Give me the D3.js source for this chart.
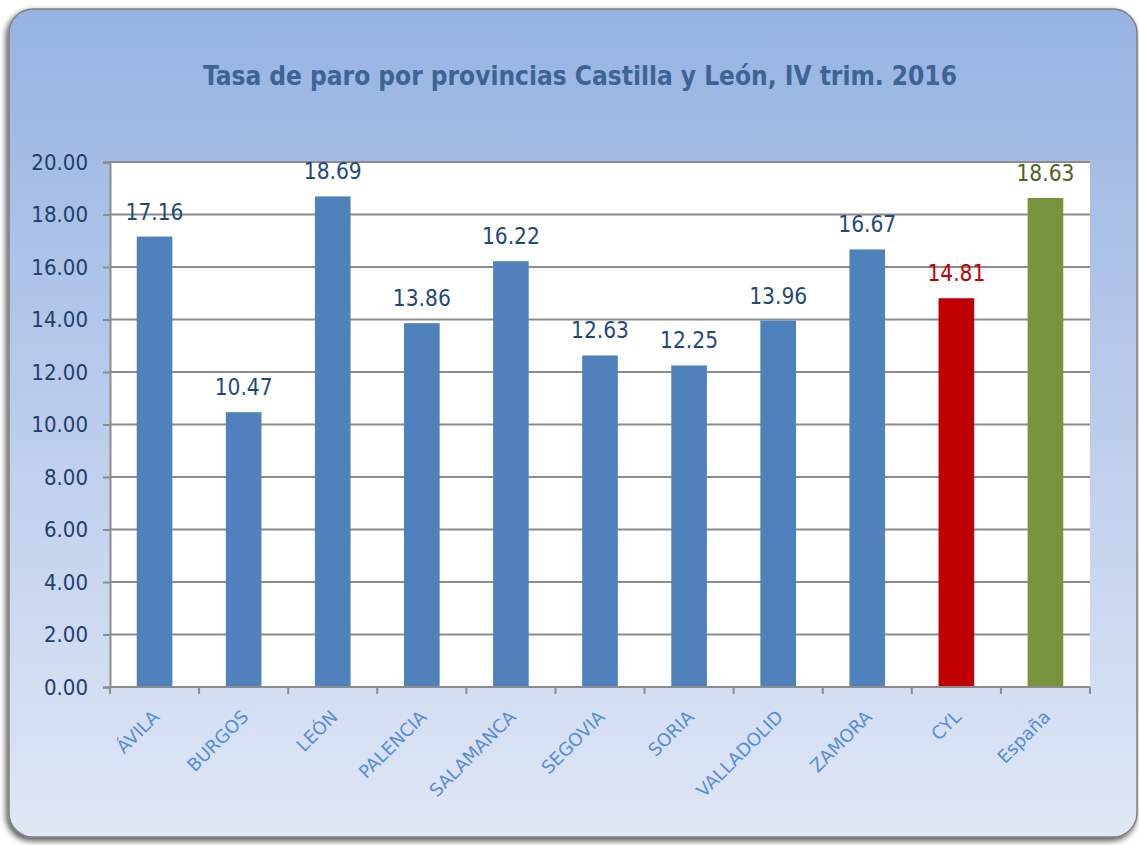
<!DOCTYPE html>
<html>
<head>
<meta charset="utf-8">
<script src="https://cdn.jsdelivr.net/npm/d3@7"></script>
<style>
  body { margin: 0; background: #ffffff; }
  svg { display: block; }
</style>
</head>
<body>
<div id="container"></div>
<script>
'use strict'
// data
const categories = ['ÁVILA', 'BURGOS', 'LEÓN', 'PALENCIA', 'SALAMANCA', 'SEGOVIA', 'SORIA', 'VALLADOLID', 'ZAMORA', 'CYL', 'España'];
const values = [17.16, 10.47, 18.69, 13.86, 16.22, 12.63, 12.25, 13.96, 16.67, 14.81, 18.63];
const yTicks = [0, 2, 4, 6, 8, 10, 12, 14, 16, 18, 20];
const title = 'Tasa de paro por provincias Castilla y León, IV trim. 2016';

const width = 1139, height = 845;
const margin = {left: 110, right: 49, top: 162, bottom: 158};
const font = "'DejaVu Sans Condensed', 'DejaVu Sans', sans-serif";
const fontX = "'DejaVu Sans', sans-serif";

const barColor = i => categories[i] === 'CYL' ? '#c00000' : categories[i] === 'España' ? '#77933c' : '#4f81bd';
const labelColor = i => categories[i] === 'CYL' ? '#c00000' : categories[i] === 'España' ? '#4f6228' : '#1f497d';

const svg = d3.select('#container').append('svg')
    .attr('width', width)
    .attr('height', height);

const defs = svg.append('defs');
const grad = defs.append('linearGradient').attr('id', 'bg').attr('x1', 0).attr('y1', 0).attr('x2', 0).attr('y2', 1);
grad.append('stop').attr('offset', '0%').attr('stop-color', '#97b3e2');
grad.append('stop').attr('offset', '45%').attr('stop-color', '#b8caeb');
grad.append('stop').attr('offset', '100%').attr('stop-color', '#e0e7f5');

const shadow = defs.append('filter').attr('id', 'shadow').attr('x', '-5%').attr('y', '-5%').attr('width', '110%').attr('height', '110%');
shadow.append('feGaussianBlur').attr('in', 'SourceAlpha').attr('stdDeviation', 3);
shadow.append('feOffset').attr('dx', -2).attr('dy', 3).attr('result', 'b');
shadow.append('feComponentTransfer').append('feFuncA').attr('type', 'linear').attr('slope', 0.7);
const mrg = shadow.append('feMerge');
mrg.append('feMergeNode');
mrg.append('feMergeNode').attr('in', 'SourceGraphic');

// frame
svg.append('rect')
    .attr('x', 9).attr('y', 9)
    .attr('width', 1128).attr('height', 828)
    .attr('rx', 24).attr('ry', 24)
    .attr('fill', 'url(#bg)')
    .attr('stroke', '#7f7f7f')
    .attr('stroke-width', 1.5)
    .attr('filter', 'url(#shadow)');

// title
svg.append('text')
    .attr('x', 580).attr('y', 85)
    .attr('text-anchor', 'middle')
    .attr('font-family', font)
    .attr('font-weight', 'bold')
    .attr('font-size', 26)
    .attr('fill', '#3c6494')
    .text(title);

const x = d3.scaleBand()
    .domain(categories)
    .range([margin.left, width - margin.right])
    .paddingInner(0.6)
    .paddingOuter(0.3);

const y = d3.scaleLinear()
    .domain([0, 20])
    .range([height - margin.bottom, margin.top]);

// plot area
svg.append('rect')
    .attr('x', margin.left).attr('y', margin.top)
    .attr('width', width - margin.right - margin.left)
    .attr('height', height - margin.bottom - margin.top)
    .attr('fill', '#ffffff');

// gridlines
svg.append('g').selectAll('line')
    .data(yTicks.filter(d => d > 0))
    .enter().append('line')
    .attr('x1', margin.left).attr('x2', width - margin.right)
    .attr('y1', d => y(d)).attr('y2', d => y(d))
    .attr('stroke', '#8c8c8c')
    .attr('stroke-width', 2);

// y axis
const yAxis = svg.append('g')
    .attr('transform', `translate(${margin.left},0)`)
    .call(d3.axisLeft(y).tickValues(yTicks).tickFormat(d3.format('.2f')).tickSize(7).tickPadding(15));
yAxis.select('.domain').attr('stroke', '#8c8c8c').attr('stroke-width', 2);
yAxis.selectAll('.tick line').attr('stroke', '#8c8c8c').attr('stroke-width', 2);
yAxis.selectAll('.tick text')
    .attr('font-family', font)
    .attr('font-size', 22)
    .attr('fill', '#1f3f6e');

// bars
svg.append('g').selectAll('rect')
    .data(values)
    .enter().append('rect')
    .attr('x', (d, i) => x(categories[i]))
    .attr('width', x.bandwidth())
    .attr('y', d => y(d))
    .attr('height', d => y(0) - y(d))
    .attr('fill', (d, i) => barColor(i));

// value labels
svg.append('g').selectAll('text')
    .data(values)
    .enter().append('text')
    .attr('x', (d, i) => x(categories[i]) + x.bandwidth() / 2)
    .attr('y', d => y(d) - 17)
    .attr('text-anchor', 'middle')
    .attr('font-family', font)
    .attr('font-size', 22.5)
    .attr('fill', (d, i) => labelColor(i))
    .text(d => d.toFixed(2));

// x axis
const xAxis = svg.append('g').attr('transform', `translate(0,${y(0)})`);
xAxis.append('line')
    .attr('x1', margin.left).attr('x2', width - margin.right)
    .attr('stroke', '#8c8c8c').attr('stroke-width', 2);
const edges = d3.range(categories.length + 1).map(i => margin.left + i * (width - margin.left - margin.right) / categories.length);
xAxis.selectAll('.xt')
    .data(edges)
    .enter().append('line')
    .attr('x1', d => d).attr('x2', d => d)
    .attr('y1', 0).attr('y2', 7)
    .attr('stroke', '#8c8c8c').attr('stroke-width', 2);
xAxis.selectAll('.xl')
    .data(categories)
    .enter().append('text')
    .attr('transform', d => `translate(${x(d) + x.bandwidth() / 2 + 6},${31}) rotate(-45)`)
    .attr('text-anchor', 'end')
    .attr('font-family', fontX)
    .attr('font-size', 18)
    .attr('fill', '#558ed5')
    .text(d => d);
</script>
</body>
</html>
